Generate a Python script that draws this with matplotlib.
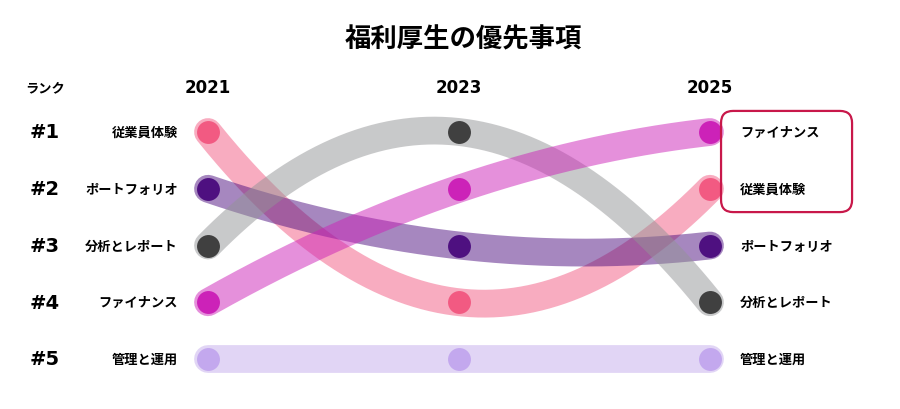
import numpy as np
import matplotlib
matplotlib.use('Agg')
import matplotlib.pyplot as plt
from matplotlib.patches import FancyBboxPatch

plt.rcParams['font.family'] = ['Noto Sans CJK JP', 'DejaVu Sans']

years = ['2021', '2023', '2025']
items = ['従業員体験', 'ポートフォリオ', '分析とレポート', 'ファイナンス', '管理と運用']
# rank of each item per year
ranks = {
    '従業員体験': [1, 4, 2],
    'ポートフォリオ': [2, 3, 3],
    '分析とレポート': [3, 1, 4],
    'ファイナンス': [4, 2, 1],
    '管理と運用': [5, 5, 5],
}
dot_colors = ['#F25A82', '#4E1080', '#404040', '#CC22B8', '#C3A8EE']
band_colors = ['#F25A82', '#4E1080', '#939496', '#CC22B8', '#C4ACEC']
rank_labels = ['#1', '#2', '#3', '#4', '#5']

fig = plt.figure(figsize=(9, 4.1), dpi=100)
ax = fig.add_axes([0, 0, 1, 1])
ax.set_xlim(-208 / 251, (900 - 208) / 251)
ax.set_ylim(1 + (410 - 133) / 56.75, 1 - 133 / 56.75)
ax.axis('off')

xs = np.arange(len(years))
xx = np.linspace(0, 2, 200)
for i, name in enumerate(items):
    r = ranks[name]
    coef = np.polyfit(xs, r, 2)
    ax.plot(xx, np.polyval(coef, xx), color=band_colors[i], alpha=0.5,
            lw=20, solid_capstyle='round', zorder=2)
for i, name in enumerate(items):
    ax.plot(xs, ranks[name], 'o', color=dot_colors[i], ms=16.5, mec='none', zorder=3)

# left and right labels
for name in items:
    r = ranks[name]
    ax.text(-0.12, r[0], name, ha='right', va='center', fontsize=9.5, fontweight='bold')
    ax.text(0.12 + 2, r[-1], name, ha='left', va='center', fontsize=9.5, fontweight='bold')

for j, y in enumerate(years):
    ax.text(xs[j], 1 + (88 - 133) / 56.75, y, ha='center', va='center', fontsize=12,
            fontweight='bold', family='DejaVu Sans')
for k, lab in enumerate(rank_labels):
    ax.text(-163 / 251, k + 1, lab, ha='center', va='center', fontsize=14,
            fontweight='bold', family='DejaVu Sans')
ax.text(-163 / 251, 1 + (88 - 133) / 56.75, 'ランク', ha='center', va='center',
        fontsize=9.5, fontweight='bold')

fig.text(0.515, 1 - 40 / 410, '福利厚生の優先事項', ha='center', va='center',
         fontsize=19, fontweight='bold')

# highlight box around top two of 2025
box = FancyBboxPatch((2.044 + 0.048, 0.63 + 0.211), 0.522 - 0.096, 1.78 - 0.422,
                     boxstyle='round,pad=0.048,rounding_size=0.048',
                     mutation_aspect=251 / 56.75, fill=False,
                     ec='#C8184A', lw=1.6, zorder=4)
ax.add_patch(box)

fig.savefig('out.png', dpi=100)
